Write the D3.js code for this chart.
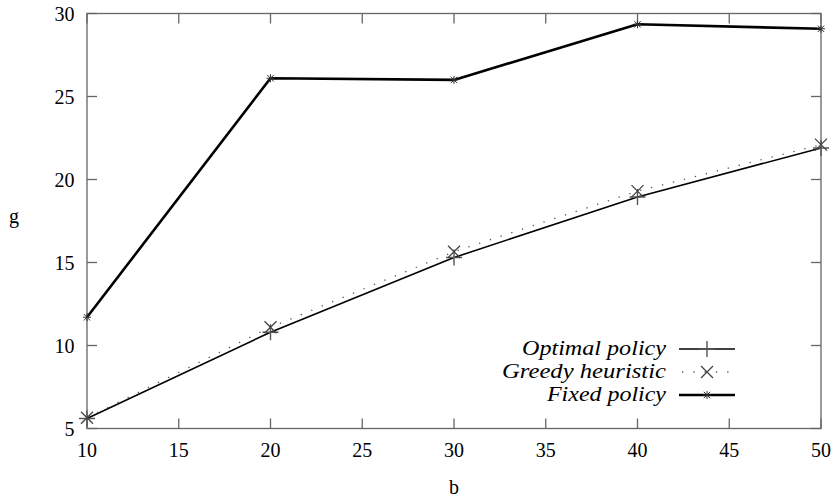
<!DOCTYPE html>
<html><head><meta charset="utf-8">
<script src="https://cdn.jsdelivr.net/npm/d3@7"></script>
<style>body{margin:0;background:#fff}svg{display:block}</style>
</head><body>
<script>
const bValues = [10, 20, 30, 40, 50];
const optimal = [5.6, 10.8, 15.3, 18.95, 21.9];
const greedy = [5.65, 11.1, 15.65, 19.3, 22.1];
const fixed = [11.7, 26.1, 26.0, 29.35, 29.08];
const xTicks = [10, 15, 20, 25, 30, 35, 40, 45, 50];
const yTicks = [5, 10, 15, 20, 25, 30];
const seriesNames = ["Optimal policy", "Greedy heuristic", "Fixed policy"];

const W = 837, H = 497;
const L = 87, R = 821, T = 13.5, B = 428.5;
const svg = d3.select("body").append("svg").attr("width", W).attr("height", H);
const x = d3.scaleLinear().domain([10, 50]).range([L, R]);
const y = d3.scaleLinear().domain([5, 30]).range([B, T]);
const font = "'Liberation Serif', 'Times New Roman', serif";
const fs = 20;
const frame = "#666";

// frame
svg.append("rect").attr("x", L).attr("y", T).attr("width", R - L).attr("height", B - T)
  .attr("fill", "none").attr("stroke", frame).attr("stroke-width", 1.3);

// ticks inward on all sides
const tl = 10;
xTicks.forEach(v => {
  svg.append("line").attr("x1", x(v)).attr("x2", x(v)).attr("y1", B).attr("y2", B - tl).attr("stroke", frame).attr("stroke-width", 1.3);
  svg.append("line").attr("x1", x(v)).attr("x2", x(v)).attr("y1", T).attr("y2", T + tl).attr("stroke", frame).attr("stroke-width", 1.3);
  svg.append("text").attr("x", x(v)).attr("y", B + 28.5).attr("text-anchor", "middle")
    .attr("font-family", font).attr("font-size", fs).text(v);
});
yTicks.forEach(v => {
  svg.append("line").attr("x1", L).attr("x2", L + tl).attr("y1", y(v)).attr("y2", y(v)).attr("stroke", frame).attr("stroke-width", 1.3);
  svg.append("line").attr("x1", R).attr("x2", R - tl).attr("y1", y(v)).attr("y2", y(v)).attr("stroke", frame).attr("stroke-width", 1.3);
  svg.append("text").attr("x", 74.5).attr("y", y(v) + 7.5).attr("text-anchor", "end")
    .attr("font-family", font).attr("font-size", fs).text(v);
});

// axis labels
svg.append("text").attr("x", (L + R) / 2).attr("y", 494).attr("text-anchor", "middle")
  .attr("font-family", font).attr("font-size", fs).text("b");
svg.append("text").attr("x", 14).attr("y", 222.5).attr("text-anchor", "middle")
  .attr("font-family", font).attr("font-size", fs).text("g");

const line = d3.line().x(d => x(d[0])).y(d => y(d[1]));
const zip = vals => bValues.map((b, i) => [b, vals[i]]);

const styles = [
  {stroke: "#000", width: 1.6, dash: null},
  {stroke: "#555", width: 1.3, dash: "1.3,10"},
  {stroke: "#000", width: 2.6, dash: null}
];
const data = [optimal, greedy, fixed];

function marker(g, kind, cx, cy) {
  if (kind === 0) {
    const s = 8;
    g.append("path").attr("d", `M${cx - s},${cy}H${cx + s}M${cx},${cy - s}V${cy + s}`)
      .attr("stroke", "#555").attr("stroke-width", 1.4).attr("fill", "none");
  } else if (kind === 1) {
    const s = 6;
    g.append("path").attr("d", `M${cx - s},${cy - s}L${cx + s},${cy + s}M${cx - s},${cy + s}L${cx + s},${cy - s}`)
      .attr("stroke", "#444").attr("stroke-width", 1.3).attr("fill", "none");
  } else {
    const s = 4;
    g.append("path").attr("d", `M${cx - s},${cy}H${cx + s}M${cx},${cy - s}V${cy + s}M${cx - s * 0.8},${cy - s * 0.8}L${cx + s * 0.8},${cy + s * 0.8}M${cx - s * 0.8},${cy + s * 0.8}L${cx + s * 0.8},${cy - s * 0.8}`)
      .attr("stroke", "#333").attr("stroke-width", 1).attr("fill", "none");
  }
}

data.forEach((vals, k) => {
  const st = styles[k];
  const p = svg.append("path").attr("d", line(zip(vals))).attr("fill", "none")
    .attr("stroke", st.stroke).attr("stroke-width", st.width).attr("stroke-linejoin", "round");
  if (st.dash) p.attr("stroke-dasharray", st.dash);
  const g = svg.append("g");
  zip(vals).forEach(d => marker(g, k, x(d[0]), y(d[1])));
});

// legend
const legY = [349, 372, 395];
const legLen = [144, 164, 119];
seriesNames.forEach((name, k) => {
  const st = styles[k];
  const ly = legY[k];
  svg.append("text").attr("x", 666).attr("y", ly + 6).attr("text-anchor", "end")
    .attr("font-family", font).attr("font-style", "italic").attr("font-size", fs)
    .attr("textLength", legLen[k]).attr("lengthAdjust", "spacingAndGlyphs").text(name);
  const p = svg.append("line").attr("x1", 679).attr("x2", 735).attr("y1", ly).attr("y2", ly)
    .attr("stroke", st.stroke).attr("stroke-width", st.width);
  if (st.dash) p.attr("stroke-dasharray", st.dash).attr("stroke-dashoffset", -3);
  marker(svg, k, 707, ly);
});
</script>
</body></html>
